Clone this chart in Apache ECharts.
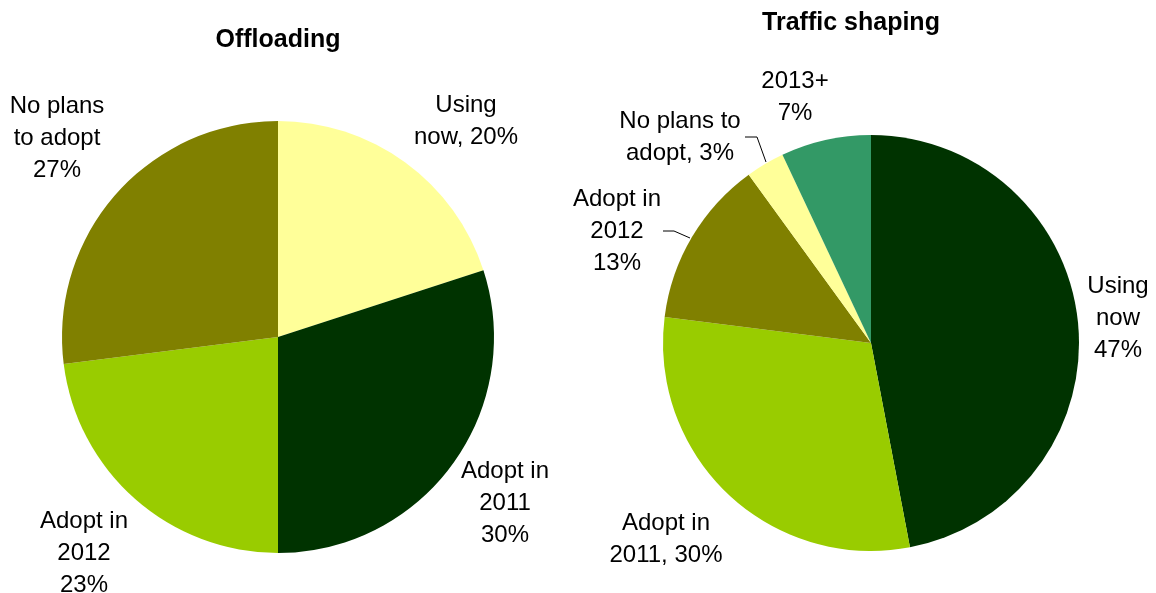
<!DOCTYPE html>
<html>
<head>
<meta charset="utf-8">
<script src="https://cdn.jsdelivr.net/npm/echarts@6/dist/echarts.min.js"></script>
<style>
  html, body { margin: 0; padding: 0; background: #fff; }
  #chart { width: 1156px; height: 593px; }
</style>
</head>
<body>
<div id="chart"></div>
<script>
// Offloading adoption
const offCategories = ['Using now', 'Adopt in 2011', 'Adopt in 2012', 'No plans to adopt'];
const offValues = [20, 30, 23, 27];
const offLabels = ['Using\nnow, {v}%', 'Adopt in\n2011\n{v}%', 'Adopt in\n2012\n{v}%', 'No plans\nto adopt\n{v}%'];
const offColors = ['#FFFF99', '#003300', '#99CC00', '#808000'];

// Traffic shaping adoption
const tsCategories = ['Using now', 'Adopt in 2011', 'Adopt in 2012', 'No plans to adopt', '2013+'];
const tsValues = [47, 30, 13, 3, 7];
const tsLabels = ['Using\nnow\n{v}%', 'Adopt in\n2011, {v}%', 'Adopt in\n2012\n{v}%', 'No plans to\nadopt, {v}%', '2013+\n{v}%'];
const tsColors = ['#003300', '#99CC00', '#808000', '#FFFF99', '#339966'];

// Label anchor points (label block centres) and leader lines
const offLabelPos = [[466, 121], [505, 503], [84, 553], [57, 138]];
const tsLabelPos = [[1118, 318], [666, 539], [617, 231], [680, 137], [795, 97]];
const tsLeaders = {
  2: [[663, 231], [674, 231], [690, 238]],
  3: [[745, 137], [757, 137], [766, 162]]
};

const FONT = '"Liberation Sans", Arial, sans-serif';

function buildData(cats, vals, colors, leaders) {
  return cats.map((c, i) => ({
    name: c,
    value: vals[i],
    itemStyle: { color: colors[i] },
    labelLine: { show: !!(leaders && leaders[i]) }
  }));
}

function fmt(templates) {
  return p => templates[p.dataIndex].replace('{v}', p.value);
}

const chart = echarts.init(document.getElementById('chart'), null, { renderer: 'canvas' });

const labelStyle = {
  show: true,
  position: 'outside',
  color: '#000',
  fontFamily: FONT,
  fontSize: 24,
  lineHeight: 32,
  align: 'center'
};

const titleStyle = { fontFamily: FONT, fontSize: 25, fontWeight: 'bold', color: '#000' };

chart.setOption({
  backgroundColor: '#ffffff',
  animation: false,
  title: [
    { text: 'Offloading', left: 278, top: 28, padding: 0, textAlign: 'center', textStyle: titleStyle },
    { text: 'Traffic shaping', left: 851, top: 11, padding: 0, textAlign: 'center', textStyle: titleStyle }
  ],
  series: [
    {
      type: 'pie',
      center: [278, 337],
      radius: [0, 216],
      startAngle: 90,
      clockwise: true,
      avoidLabelOverlap: false,
      silent: true,
      data: buildData(offCategories, offValues, offColors, null),
      label: Object.assign({}, labelStyle, { formatter: fmt(offLabels) }),
      labelLine: { show: false },
      labelLayout: p => ({
        x: offLabelPos[p.dataIndex][0],
        y: offLabelPos[p.dataIndex][1],
        align: 'center',
        verticalAlign: 'middle'
      })
    },
    {
      type: 'pie',
      center: [871, 343],
      radius: [0, 208],
      startAngle: 90,
      clockwise: true,
      avoidLabelOverlap: false,
      silent: true,
      data: buildData(tsCategories, tsValues, tsColors, tsLeaders),
      label: Object.assign({}, labelStyle, { formatter: fmt(tsLabels) }),
      labelLine: { lineStyle: { color: '#000', width: 1 }, smooth: false },
      labelLayout: p => {
        const out = {
          x: tsLabelPos[p.dataIndex][0],
          y: tsLabelPos[p.dataIndex][1],
          align: 'center',
          verticalAlign: 'middle'
        };
        if (tsLeaders[p.dataIndex]) out.labelLinePoints = tsLeaders[p.dataIndex];
        return out;
      }
    }
  ]
});
</script>
</body>
</html>
